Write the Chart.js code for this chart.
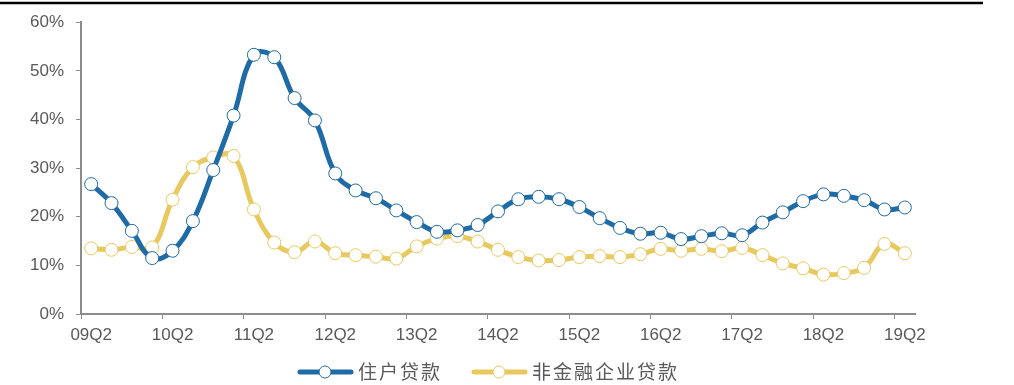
<!DOCTYPE html>
<html>
<head>
<meta charset="utf-8">
<script src="https://cdn.jsdelivr.net/npm/chart.js@4/dist/chart.umd.min.js"></script>
<style>
  html, body { margin: 0; padding: 0; background: #fff; }
  #wrap { position: relative; width: 1014px; height: 385px; }
</style>
</head>
<body>
<div id="wrap"><canvas id="c" width="1014" height="385"></canvas></div>
<script>
// Quarters 09Q2 .. 19Q2
const quarters = [
  '09Q2','09Q3','09Q4','10Q1','10Q2','10Q3','10Q4','11Q1','11Q2','11Q3','11Q4',
  '12Q1','12Q2','12Q3','12Q4','13Q1','13Q2','13Q3','13Q4','14Q1','14Q2','14Q3',
  '14Q4','15Q1','15Q2','15Q3','15Q4','16Q1','16Q2','16Q3','16Q4','17Q1','17Q2',
  '17Q3','17Q4','18Q1','18Q2','18Q3','18Q4','19Q1','19Q2'
];

// 住户贷款 growth, %
const householdLoans = [
  26.7, 22.8, 17.1, 11.5, 13.0, 19.1, 29.6, 40.8, 53.3, 52.8, 44.4,
  39.8, 28.9, 25.4, 23.8, 21.3, 18.9, 16.9, 17.2, 18.3, 21.1, 23.6,
  24.1, 23.6, 22.0, 19.7, 17.7, 16.5, 16.7, 15.4, 16.0, 16.6, 16.2,
  18.8, 20.9, 23.2, 24.6, 24.3, 23.4, 21.5, 21.9
];

// 非金融企业贷款 growth, %
const corporateLoans = [
  13.5, 13.2, 13.8, 13.7, 23.5, 30.2, 32.2, 32.5, 21.5, 14.7, 12.7,
  14.9, 12.5, 12.1, 11.8, 11.4, 13.9, 15.5, 16.0, 14.9, 13.2, 11.7,
  11.0, 11.1, 11.7, 11.9, 11.7, 12.3, 13.4, 13.0, 13.4, 12.9, 13.6,
  12.1, 10.4, 9.4, 8.1, 8.4, 9.5, 14.4, 12.5
];

const seriesNames = ['住户贷款', '非金融企业贷款'];
const seriesColors = ['#1F6BA5', '#E8C95F'];

const yTicks = [0, 10, 20, 30, 40, 50, 60];
const labelEvery = 4;

const axisGrey = '#8C8C8C';
const textGrey = '#595959';

// thin black rule across the top of the figure
const topRule = {
  id: 'topRule',
  beforeDraw(chart) {
    const ctx = chart.ctx;
    ctx.save();
    ctx.strokeStyle = '#000';
    ctx.lineWidth = 2.5;
    ctx.beginPath();
    ctx.moveTo(0, 3);
    ctx.lineTo(983, 3);
    ctx.stroke();
    ctx.restore();
  }
};

// legend: line sample with a hollow marker, then the series name
const lineLegend = {
  id: 'lineLegend',
  afterDraw(chart) {
    const ctx = chart.ctx;
    const y = 372;
    const starts = [298, 472];
    ctx.save();
    chart.data.datasets.forEach((ds, i) => {
      const x0 = starts[i];
      ctx.strokeStyle = ds.borderColor;
      ctx.lineWidth = 5;
      ctx.lineCap = 'round';
      ctx.beginPath();
      ctx.moveTo(x0 + 2, y);
      ctx.lineTo(x0 + 53, y);
      ctx.stroke();
      ctx.lineCap = 'butt';
      ctx.fillStyle = '#fff';
      ctx.lineWidth = 1;
      ctx.beginPath();
      ctx.arc(x0 + 27, y, 6, 0, Math.PI * 2);
      ctx.fill();
      ctx.stroke();
      ctx.fillStyle = textGrey;
      ctx.font = '19px "Noto Sans CJK SC", sans-serif';
      ctx.letterSpacing = '2px';
      ctx.textBaseline = 'middle';
      ctx.textAlign = 'left';
      ctx.fillText(ds.label, x0 + 60, y);
      ctx.letterSpacing = '0px';
    });
    ctx.restore();
  }
};

const makeDataset = (i, values, order) => ({
  label: seriesNames[i],
  data: values,
  borderColor: seriesColors[i],
  backgroundColor: '#fff',
  borderWidth: 5,
  tension: 0.4,
  pointRadius: 6.5,
  pointHoverRadius: 6.5,
  pointBorderWidth: 1,
  pointBackgroundColor: '#fff',
  pointBorderColor: seriesColors[i],
  order: order
});

new Chart(document.getElementById('c'), {
  type: 'line',
  data: {
    labels: quarters,
    datasets: [
      makeDataset(0, householdLoans, 0),
      makeDataset(1, corporateLoans, 1)
    ]
  },
  plugins: [topRule, lineLegend],
  options: {
    responsive: false,
    animation: false,
    layout: { padding: { left: 0, right: 99, top: 17, bottom: 0 } },
    plugins: {
      legend: { display: false },
      tooltip: { enabled: false }
    },
    scales: {
      x: {
        type: 'category',
        offset: true,
        grid: {
          offset: true,
          drawOnChartArea: false,
          tickLength: 5,
          tickColor: (c) => (c.index % labelEvery === 0 ? axisGrey : 'rgba(0,0,0,0)')
        },
        border: { color: axisGrey, width: 2 },
        ticks: {
          autoSkip: false,
          maxRotation: 0,
          padding: 6,
          color: textGrey,
          font: { family: '"Liberation Sans", Arial, sans-serif', size: 17 },
          callback: function (v, i) { return i % labelEvery === 0 ? quarters[i] : ''; }
        },
        afterFit(scale) { scale.height = 71; }
      },
      y: {
        min: 0,
        max: 60,
        afterBuildTicks(scale) { scale.ticks = yTicks.map(v => ({ value: v })); },
        grid: {
          drawOnChartArea: false,
          tickLength: 5,
          tickColor: axisGrey
        },
        border: { color: axisGrey, width: 2 },
        ticks: {
          padding: 12,
          color: textGrey,
          font: { family: '"Liberation Sans", Arial, sans-serif', size: 17 },
          callback: (v) => v + '%'
        },
        afterFit(scale) { scale.width = 81; }
      }
    }
  }
});
</script>
</body>
</html>
